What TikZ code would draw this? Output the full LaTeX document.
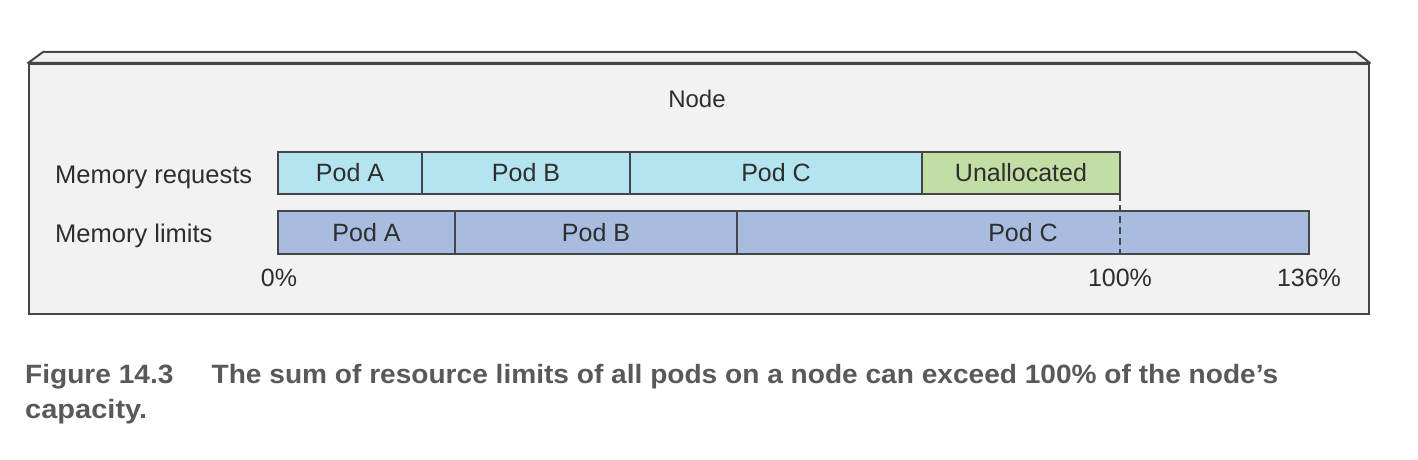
\documentclass[tikz,border=0pt]{standalone}
\usepackage{graphicx}
\usepackage{fontspec}
\setmainfont{Liberation Sans}
\newfontfamily\capfont{Liberation Sans}
\definecolor{boxfill}{HTML}{F2F2F2}
\definecolor{boxtop}{HTML}{F0F0F0}
\definecolor{edge}{HTML}{454649}
\definecolor{reqc}{HTML}{B4E4EF}
\definecolor{unal}{HTML}{C2DEA5}
\definecolor{limc}{HTML}{A7BCDF}
\definecolor{txt}{HTML}{2E2E2E}
\definecolor{capc}{HTML}{595959}
\tikzset{
  seg/.style={draw=edge, line width=1.4pt, inner sep=0pt, outer sep=0pt, anchor=west,
    text=txt, font=\fontsize{25}{30}\selectfont},
  reqseg/.style={seg, fill=reqc, minimum height=42pt},
  unseg/.style={seg, fill=unal, minimum height=42pt},
  limseg/.style={seg, fill=limc, minimum height=43pt},
  lbl/.style={text=txt, font=\fontsize{25.5}{30}\selectfont, inner sep=0pt},
  pct/.style={text=txt, font=\fontsize{25}{30}\selectfont, inner sep=0pt, anchor=base},
  capt/.style={text=capc, font=\capfont\bfseries\fontsize{26.5}{30}\selectfont, inner sep=0pt, anchor=base west},
}
\begin{document}
\begin{tikzpicture}[x=1pt,y=-1pt]
\useasboundingbox (0,0) rectangle (1418,460);
% outer node box
\node[draw=edge, fill=boxfill, line width=2pt, minimum width=1340pt, minimum height=250pt,
  inner sep=0pt, anchor=north west] (nodebox) at (28,63) {};
\filldraw[draw=edge, fill=boxtop, line width=2pt, line join=round]
  (nodebox.north west) -- ++(15,-11) -- ([xshift=-14pt,yshift=11pt]nodebox.north east) -- (nodebox.north east) -- cycle;
\node[lbl, font=\fontsize{24}{30}\selectfont] (title) at (697,99) {Node};
% row labels
\node[lbl, anchor=base west] (lreq) at (55,183) {Memory requests};
\node[lbl, anchor=base west] (llim) at (55,242) {Memory limits};
% requests bar
\node[reqseg, minimum width=144pt] (ra) at (278,173) {Pod A};
\node[reqseg, minimum width=208pt] (rb) at (422,173) {Pod B};
\node[reqseg, minimum width=292pt] (rc) at (630,173) {Pod C};
\node[unseg, minimum width=198pt] (ru) at (922,173) {Unallocated};
% limits bar
\node[limseg, minimum width=177pt] (la) at (278,232.5) {Pod A};
\node[limseg, minimum width=282pt] (lb) at (455,232.5) {Pod B};
\node[limseg, minimum width=572pt] (lc) at (737,232.5) {Pod C};
% 100% marker
\coordinate (m100) at (lc.south -| ru.south east);
\draw[edge, line width=1.4pt, dash pattern=on 7pt off 4pt] (ru.south east) -- (m100);
% percentages
\node[pct] (p0) at (279,286) {0\%};
\node[pct] (p100) at (1120,286) {100\%};
\node[pct] (p136) at (1309,286) {136\%};
% caption
\node[capt] (cap1) at (25,383) {\resizebox{1253pt}{\height}{Figure 14.3\hspace{36pt}The sum of resource limits of all pods on a node can exceed 100\% of the node’s}};
\node[capt] (cap2) at (25,418) {\resizebox{122pt}{\height}{capacity.}};
\end{tikzpicture}
\end{document}
